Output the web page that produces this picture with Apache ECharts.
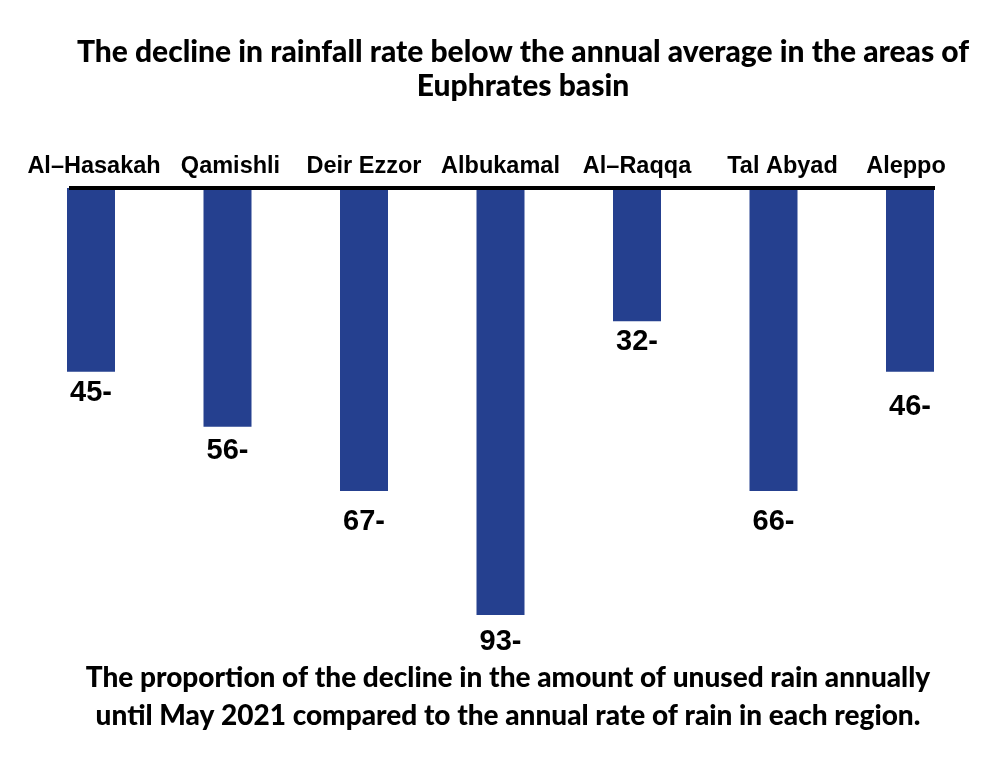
<!DOCTYPE html>
<html><head><meta charset="utf-8">
<style>html,body{margin:0;padding:0;background:#fff}#c{width:1000px;height:762px}</style>
<script src="https://cdn.jsdelivr.net/npm/echarts@6/dist/echarts.min.js"></script>
</head><body><div id="c"></div>
<script>
const categories = ["Al–Hasakah","Qamishli","Deir Ezzor","Albukamal","Al–Raqqa","Tal Abyad","Aleppo"];
const barValues = [-40,-52,-66,-93,-29,-66,-40];
const valueLabels = ["45-","56-","67-","93-","32-","66-","46-"];
const labelGaps = [7,10,16,12,6,16,21];
const categoryShifts = [3,3,0,0,0,9,-4];
const titleText = "The decline in rainfall rate below the annual average in the areas of\nEuphrates basin";
const noteText = "The proportion of the decline in the amount of unused rain annually\nuntil May 2021 compared to the annual rate of rain in each region.";
const chart = echarts.init(document.getElementById('c'),null,{renderer:'canvas'});
chart.setOption({
  animation:false,
  backgroundColor:'#fff',
  title:[
    {text:titleText,left:518,top:30,textAlign:'center',textStyle:{fontFamily:'Lato',fontWeight:900,fontSize:30,lineHeight:34,color:'#000'}},
    {text:noteText,left:503,top:654,textAlign:'center',textStyle:{fontFamily:'Lato',fontWeight:900,fontSize:28,lineHeight:38,color:'#000'}}
  ],
  grid:{left:22.75,width:955.5,top:188,height:427},
  xAxis:{type:'category',
    data:categories.map((c,i)=>({value:c,textStyle:{padding:categoryShifts[i]>=0?[0,0,0,2*categoryShifts[i]]:[0,-2*categoryShifts[i],0,0]}})),
    position:'top',
    axisLine:{show:false},axisTick:{show:false},
    axisLabel:{interval:0,margin:9,fontFamily:'Liberation Sans',fontWeight:'bold',fontSize:23.5,color:'#000'}},
  yAxis:{type:'value',min:-93,max:0,show:false,splitLine:{show:false}},
  graphic:[{type:'rect',shape:{x:69,y:186,width:866,height:4},style:{fill:'#000'},z:10}],
  series:[{type:'bar',barWidth:48,
    data:barValues.map((v,i)=>({value:v,label:{distance:labelGaps[i],formatter:valueLabels[i]}})),
    itemStyle:{color:'#25408f'},
    label:{show:true,position:'bottom',fontFamily:'Liberation Sans',fontWeight:'bold',fontSize:29,color:'#000'}}]
});
</script></body></html>
